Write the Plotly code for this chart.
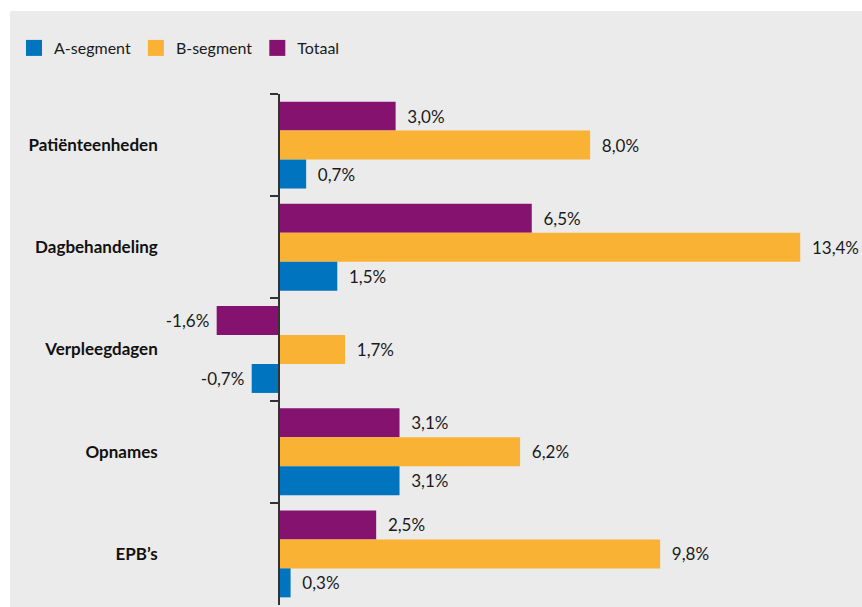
import plotly.graph_objects as go

# Categories, top to bottom
categories = ["Patiënteenheden", "Dagbehandeling", "Verpleegdagen", "Opnames", "EPB’s"]

# Growth percentages per segment
a_segment = [0.7, 1.5, -0.7, 3.1, 0.3]
b_segment = [8.0, 13.4, 1.7, 6.2, 9.8]
totaal = [3.0, 6.5, -1.6, 3.1, 2.5]

# Drawn top to bottom within each group: Totaal, B-segment, A-segment
series = [
    ("Totaal", totaal, "#86126F"),
    ("B-segment", b_segment, "#F9B233"),
    ("A-segment", a_segment, "#0074BE"),
]

W, H = 862, 607
ML, MR, MT, MB = 170, 12, 94, 2
x_min, x_max = -2.8, 14.68


def label(v):
    s = f"{v:.1f}%".replace(".", ",")
    return ("  " + s) if v >= 0 else (s + " ")


fig = go.Figure()
for name, vals, color in series:
    fig.add_trace(go.Bar(
        y=categories, x=vals, name=name, orientation="h",
        marker=dict(color=color, line=dict(width=0)),
        text=[label(v) for v in vals], textposition="outside",
        textfont=dict(family="Lato", size=17, color="#1a1a1a"),
        cliponaxis=False, showlegend=False,
    ))

# Legend entries with larger square swatches
for name, _, color in reversed(series):
    fig.add_trace(go.Scatter(
        x=[None], y=[None], mode="markers", name=name,
        marker=dict(symbol="square", size=16, color=color, line=dict(width=0)),
        showlegend=True, hoverinfo="skip",
    ))

plot_w = W - ML - MR
plot_h = H - MT - MB

fig.update_layout(
    width=W, height=H,
    margin=dict(l=ML, r=MR, t=MT, b=MB, autoexpand=False),
    paper_bgcolor="white",
    plot_bgcolor="#EBEBEB",
    barmode="group",
    bargap=0.15,
    bargroupgap=0,
    separators=",.",
    font=dict(family="Lato", size=16, color="#1a1a1a"),
    showlegend=True,
    legend=dict(
        orientation="h", xref="container", yref="container",
        x=14 / W, y=1 - 48 / H, xanchor="left", yanchor="middle",
        bgcolor="rgba(0,0,0,0)", font=dict(family="Lato", size=16, color="#1a1a1a"),
        traceorder="normal", itemwidth=30,
    ),
    xaxis=dict(
        range=[x_min, x_max], showgrid=False, zeroline=False,
        showticklabels=False, ticks="", showline=False, fixedrange=True,
    ),
    yaxis=dict(
        type="category", autorange="reversed",
        anchor="free", position=(0 - x_min) / (x_max - x_min),
        showline=True, linecolor="#333333", linewidth=1.5,
        ticks="outside", ticklen=8, tickcolor="#333333", tickwidth=1.5,
        tickson="boundaries",
        ticklabelstandoff=117,
        tickfont=dict(family="Lato", size=17, color="#111111", weight="bold"),
        showgrid=False, zeroline=False,
    ),
    shapes=[
        dict(
            type="rect", layer="below", xref="paper", yref="paper",
            x0=(10 - ML) / plot_w, x1=1 + MR / plot_w,
            y0=-MB / plot_h, y1=1 + (MT - 11) / plot_h,
            fillcolor="#EBEBEB", line=dict(width=0),
        )
    ],
)

fig.write_html("out.html")
